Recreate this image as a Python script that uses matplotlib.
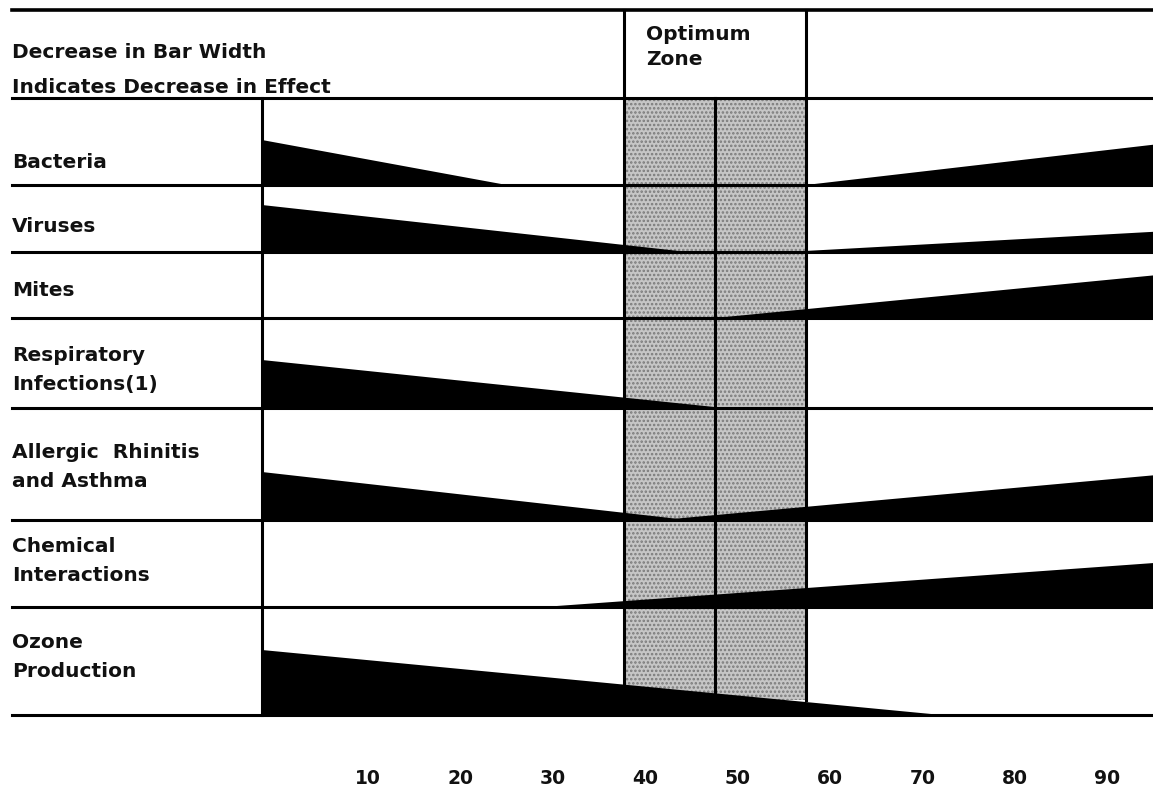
import matplotlib.pyplot as plt
from matplotlib.patches import Rectangle

plt.rcParams['font.family'] = ['DejaVu Sans']
plt.rcParams['hatch.linewidth'] = 1.2

# health effects vs. relative humidity (%)
rows = ["Bacteria", "Viruses", "Mites", "Respiratory\nInfections(1)",
        "Allergic  Rhinitis\nand Asthma", "Chemical\nInteractions",
        "Ozone\nProduction"]

# falling wedge on the dry side: bar width at 0 % RH, RH where it runs out
left_width = [45, 47, 0, 48, 48, 0, 65]
left_end = [27, 47, 0, 51, 47, 0, 75]

# rising wedge on the humid side: RH where it starts, bar width at 100 % RH
right_start = [60, 58, 50, 0, 44, 31, 0]
right_width = [42, 21, 44, 0, 46, 45, 0]

optimum = (40, 60)
rh_ticks = [10, 20, 30, 40, 50, 60, 70, 80, 90]

# layout (vertical units run top-down)
header_bottom = 98
row_bottom = [185, 252, 318, 408, 520, 607, 715]
label_y = [163, 226, 290, 370, 467, 561, 657]
top_line = 10
shade_bottom = 700
px_per_rh = 9.06
x_left = -262 / px_per_rh
x_right = (1153 - 262) / px_per_rh
line_start = x_left + 12 / px_per_rh

fig = plt.figure(figsize=(11.53, 7.96), dpi=100)
ax = fig.add_axes([0, 0, 1, 1])
ax.set_xlim(x_left, x_right)
ax.set_ylim(796, 0)
ax.axis('off')

# optimum zone shading
lo, hi = optimum
ax.add_patch(Rectangle((lo, header_bottom), hi - lo, shade_bottom - header_bottom,
                       facecolor='#c6c6c6', edgecolor='#7a7a7a', linewidth=0,
                       hatch='....', zorder=1))

# wedges
for i in range(len(rows)):
    base = row_bottom[i]
    if left_width[i] > 0:
        ax.fill([0, left_end[i], 0], [base, base, base - left_width[i]],
                color='black', lw=0, zorder=2)
    if right_width[i] > 0:
        ax.fill([right_start[i], 100, 100], [base, base, base - right_width[i]],
                color='black', lw=0, zorder=2)

# grid lines
lw = 2.2
ax.plot([line_start, x_right], [top_line, top_line], color='black', lw=2.6, zorder=3)
ax.plot([line_start, x_right], [header_bottom, header_bottom], color='black', lw=lw, zorder=3)
for base in row_bottom:
    ax.plot([line_start, x_right], [base, base], color='black', lw=lw, zorder=3)
ax.plot([0, 0], [header_bottom, row_bottom[-1]], color='black', lw=lw, zorder=3)
ax.plot([lo, lo], [top_line, shade_bottom], color='black', lw=lw, zorder=3)
ax.plot([hi, hi], [top_line, shade_bottom], color='black', lw=lw, zorder=3)
ax.plot([(lo + hi) / 2] * 2, [header_bottom, shade_bottom], color='black', lw=lw, zorder=3)

# text
txt = dict(fontsize=14.5, fontweight='bold', color='#111111')
ax.text(line_start, 53, "Decrease in Bar Width", va='center', ha='left', **txt)
ax.text(line_start, 97, "Indicates Decrease in Effect", va='bottom', ha='left', **txt)
ax.text(lo + 2.4, 47, "Optimum\nZone", va='center', ha='left', linespacing=1.45, **txt)

for name, y in zip(rows, label_y):
    ax.text(line_start, y, name, va='center', ha='left', linespacing=1.65,
            zorder=1, **txt)

for v in rh_ticks:
    ax.text(1.02 * v + 1.5, 778, str(v), va='center', ha='center',
            fontsize=13.5, fontweight='bold', color='#111111')

fig.savefig('out.png', dpi=100)
